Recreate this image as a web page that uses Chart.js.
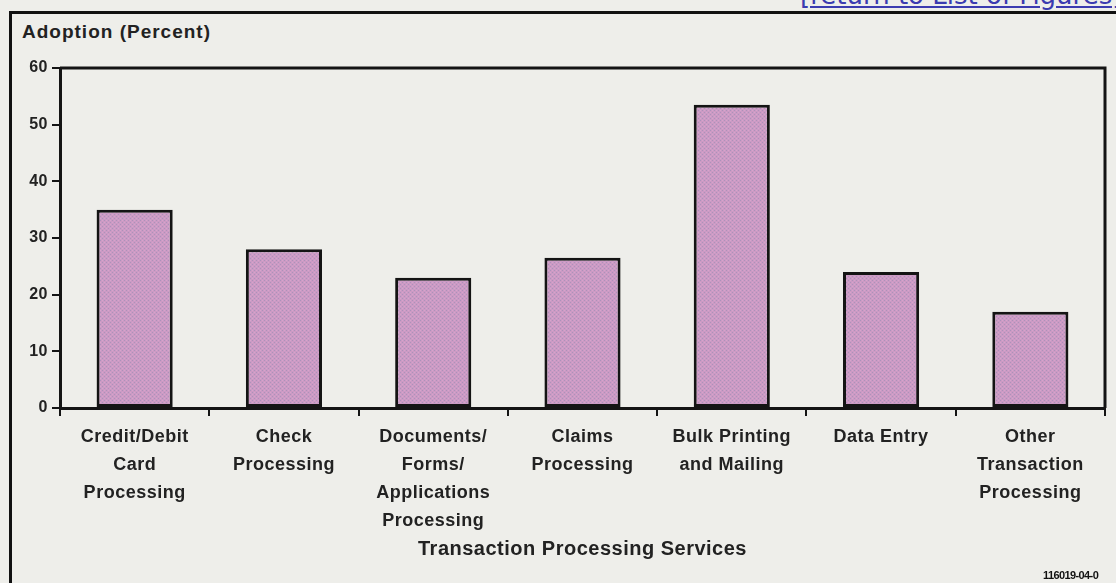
<!DOCTYPE html>
<html>
<head>
<meta charset="utf-8">
<script src="https://cdn.jsdelivr.net/npm/chart.js@4.4.1/dist/chart.umd.min.js"></script>
<style>
    html, body { margin: 0; padding: 0; width: 1116px; height: 583px; overflow: hidden; background: #eeeeea; }
    #frame { position: absolute; left: 9px; top: 11px; width: 1200px; height: 700px; border: 3px solid #111; box-sizing: border-box; }
    #wrap { position: absolute; left: 0; top: 0; width: 1116px; height: 583px; }
    #ytitle { position: absolute; left: 22px; top: 21px; font: bold 19px "Liberation Sans", Arial, sans-serif; letter-spacing: 1px; color: #222; white-space: nowrap; }
    #back { position: absolute; left: 800px; top: -20px; font: 26px "DejaVu Sans", Verdana, sans-serif; color: #3b3bb0; text-decoration: underline; white-space: nowrap; }
    #code { position: absolute; left: 1043px; top: 569px; font: bold 11px "Liberation Sans", Arial, sans-serif; letter-spacing: -0.6px; color: #111; white-space: nowrap; }
</style>
</head>
<body>
<a id="back">[return to List of Figures]</a>
<div id="frame"></div>
<div id="ytitle">Adoption (Percent)</div>
<div id="wrap"><canvas id="mainChart" width="1116" height="583"></canvas></div>
<div id="code">116019-04-0</div>
<script>
const categories = [
    ['Credit/Debit', 'Card', 'Processing'],
    ['Check', 'Processing'],
    ['Documents/', 'Forms/', 'Applications', 'Processing'],
    ['Claims', 'Processing'],
    ['Bulk Printing', 'and Mailing'],
    ['Data Entry'],
    ['Other', 'Transaction', 'Processing']
];
const adoption = [35, 28, 23, 26.5, 53.5, 24, 17];
const yTicks = [0, 10, 20, 30, 40, 50, 60];
const xTitle = 'Transaction Processing Services';

const INK = '#141414';
const TEXT = '#222';
const FONT = '"Liberation Sans", Arial, sans-serif';

// dotted mauve fill used for the bars
function barPattern() {
    const c = document.createElement('canvas');
    c.width = 4; c.height = 4;
    const p = c.getContext('2d');
    p.fillStyle = '#cb9ac4';
    p.fillRect(0, 0, 4, 4);
    p.fillStyle = '#ac92ba';
    p.fillRect(0, 0, 1, 1);
    p.fillRect(2, 2, 1, 1);
    p.fillStyle = '#d6a4cb';
    p.fillRect(2, 0, 1, 1);
    p.fillRect(0, 2, 1, 1);
    return p.createPattern(c, 'repeat');
}

// the type is set a little looser than plain Arial
const spacing = {
    id: 'spacing',
    beforeLayout(chart) { chart.ctx.letterSpacing = '0.5px'; },
    beforeDraw(chart) { chart.ctx.letterSpacing = '0.5px'; }
};

// closes the plot box on the top and right
const plotBox = {
    id: 'plotBox',
    afterDraw(chart) {
        const { ctx, chartArea: a } = chart;
        ctx.save();
        ctx.strokeStyle = INK;
        ctx.lineWidth = 3;
        ctx.beginPath();
        ctx.moveTo(a.left, a.top);
        ctx.lineTo(a.right, a.top);
        ctx.lineTo(a.right, a.bottom);
        ctx.stroke();
        ctx.restore();
    }
};

const ctx = document.getElementById('mainChart').getContext('2d');

new Chart(ctx, {
    type: 'bar',
    data: {
        labels: categories,
        datasets: [{
            data: adoption,
            backgroundColor: barPattern(),
            borderColor: INK,
            borderWidth: 3,
            borderSkipped: false,
            barPercentage: 0.51,
            categoryPercentage: 1
        }]
    },
    plugins: [spacing, plotBox],
    options: {
        responsive: false,
        animation: false,
        devicePixelRatio: 1,
        layout: { padding: { left: 0, top: 68, right: 11, bottom: 0 } },
        plugins: {
            legend: { display: false },
            tooltip: { enabled: false }
        },
        scales: {
            x: {
                afterFit(scale) { scale.height = 175; },
                grid: { offset: true, drawOnChartArea: false, tickLength: 8, color: INK, lineWidth: 2 },
                border: { display: true, color: INK, width: 3 },
                ticks: {
                    autoSkip: false,
                    maxRotation: 0,
                    padding: 7,
                    color: TEXT,
                    font: { family: FONT, size: 18, weight: 'bold', lineHeight: 1.55 }
                },
                title: {
                    display: true,
                    text: xTitle,
                    color: TEXT,
                    padding: { top: 0, bottom: 22 },
                    font: { family: FONT, size: 20, weight: 'bold' }
                }
            },
            y: {
                min: 0,
                max: 60,
                afterFit(scale) { scale.width = 60; },
                afterBuildTicks(scale) { scale.ticks = yTicks.map(v => ({ value: v })); },
                grid: { drawOnChartArea: false, tickLength: 8, color: INK, lineWidth: 2 },
                border: { display: true, color: INK, width: 3 },
                ticks: {
                    padding: 4,
                    color: TEXT,
                    font: { family: FONT, size: 16, weight: 'bold' }
                }
            }
        }
    }
});
</script>
</body>
</html>
